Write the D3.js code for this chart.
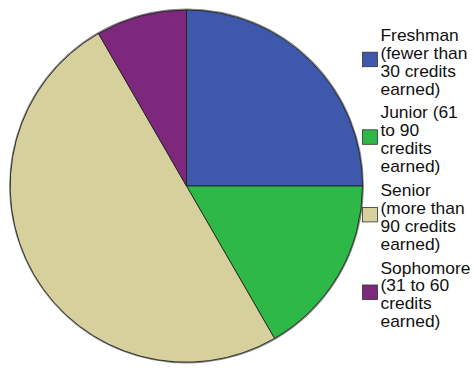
<!DOCTYPE html>
<html>
<head>
<meta charset="utf-8">
<script src="https://cdn.jsdelivr.net/npm/d3@7"></script>
<style>
  html, body { margin: 0; padding: 0; background: #fff; }
  svg { display: block; }
</style>
</head>
<body>
<svg id="chart" width="474" height="372"></svg>
<script>
// Class standing counts
const categories = ["Freshman", "Junior", "Senior", "Sophomore"];
const counts = [6, 4, 12, 2];
const colors = ["#3E58AC", "#2EB848", "#D5D09C", "#7D277D"];
const legendLines = [
  ["Freshman", "(fewer than", "30 credits", "earned)"],
  ["Junior (61", "to 90", "credits", "earned)"],
  ["Senior", "(more than", "90 credits", "earned)"],
  ["Sophomore", "(31 to 60", "credits", "earned)"]
];

const svg = d3.select("#chart");
const cx = 186.5, cy = 186, r = 176;

const pie = d3.pie().sort(null).value(d => d.value);
const arcs = pie(categories.map((c, i) => ({ name: c, value: counts[i], color: colors[i] })));
const arc = d3.arc().innerRadius(0).outerRadius(r);

const g = svg.append("g").attr("transform", `translate(${cx},${cy})`);

// soft grey rim around the disc
g.append("circle")
  .attr("r", r + 0.6)
  .attr("fill", "none")
  .attr("stroke", "#888")
  .attr("stroke-width", 1.6);

g.selectAll("path")
  .data(arcs)
  .join("path")
  .attr("d", arc)
  .attr("fill", d => d.data.color)
  .attr("stroke", "#222")
  .attr("stroke-width", 0.9)
  .attr("stroke-linejoin", "round");

// Legend: one wrapped label per category, swatch beside its second line
const legend = svg.append("g");
const lineH = 18;
const xScale = 1.08;
const groupStep = 77.6;
const firstBaseline = 40.7;
legend.selectAll("g.item")
  .data(categories)
  .join("g")
  .attr("class", "item")
  .each(function (d, i) {
    const item = d3.select(this);
    const b0 = firstBaseline + i * groupStep;
    item.append("rect")
      .attr("x", 362.5)
      .attr("y", b0 + 11.5)
      .attr("width", 15)
      .attr("height", 14.5)
      .attr("fill", colors[i])
      .attr("stroke", "#333")
      .attr("stroke-width", 0.8);
    item.append("text")
      .attr("transform", `translate(380.5,${b0}) scale(${xScale},1)`)
      .attr("font-family", "'Liberation Sans', Arial, sans-serif")
      .attr("font-size", 16.1)
      .attr("fill", "#111")
      .selectAll("tspan")
      .data(legendLines[i])
      .join("tspan")
      .attr("x", 0)
      .attr("y", (t, j) => j * lineH)
      .text(t => t);
  });
</script>
</body>
</html>
